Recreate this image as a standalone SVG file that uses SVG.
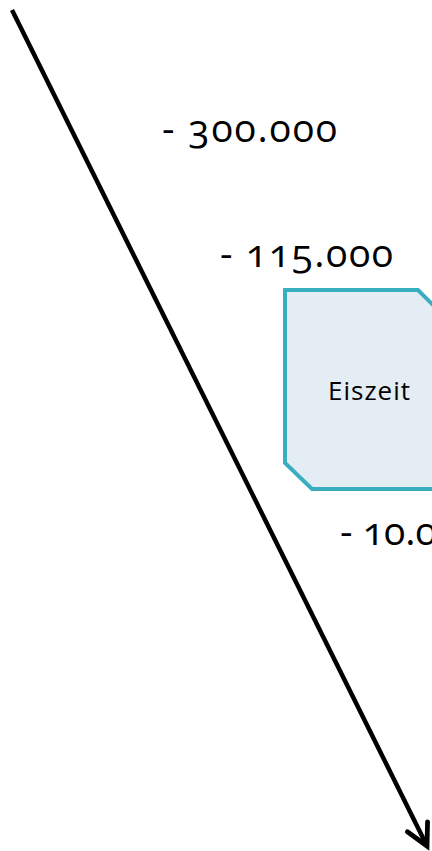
<svg xmlns="http://www.w3.org/2000/svg" width="432" height="851" viewBox="0 0 432 851">
  <style>
    .year { font-family: "Open Sans", "Noto Sans", sans-serif; font-size: 39px; fill: #000; font-variant-numeric: oldstyle-nums; font-feature-settings: "onum" 1; }
    .label { font-family: "Open Sans", "Noto Sans", sans-serif; font-size: 26px; fill: #000; text-anchor: middle; }
    .box { fill: #E4EDF3; stroke: #3AAEC1; stroke-width: 4; stroke-linejoin: miter; }
    .axis { stroke: #000; stroke-width: 4.5; fill: none; }
  </style>
  <defs>
    <marker id="chev" markerUnits="userSpaceOnUse" markerWidth="30" markerHeight="30" viewBox="-24 -14 28 28" refX="0" refY="0" orient="auto" overflow="visible">
      <path d="M -20 -10.5 L 0 0 L -20 10.5" fill="none" stroke="#000" stroke-width="4.5" stroke-linejoin="miter" stroke-linecap="round"/>
    </marker>
  </defs>
  <rect width="432" height="851" fill="#fff"/>
  <g id="connectors">
    <line class="axis" x1="12" y1="10" x2="427" y2="846" marker-end="url(#chev)"/>
  </g>
  <g id="label-300000">
    <text class="year" x="162" y="142" textLength="175" lengthAdjust="spacing">- 300.000</text>
  </g>
  <g id="label-115000">
    <text class="year" x="220" y="267" textLength="173" lengthAdjust="spacing">- 115.000</text>
  </g>
  <g id="node-eiszeit">
    <path class="box" d="M285,290 L418,290 L448,320 L448,489 L312,489 L285,463 Z"/>
    <text class="label" x="369" y="400" textLength="82" lengthAdjust="spacing">Eiszeit</text>
  </g>
  <g id="label-10000">
    <text class="year" x="340" y="545">- 10.000</text>
  </g>
</svg>
